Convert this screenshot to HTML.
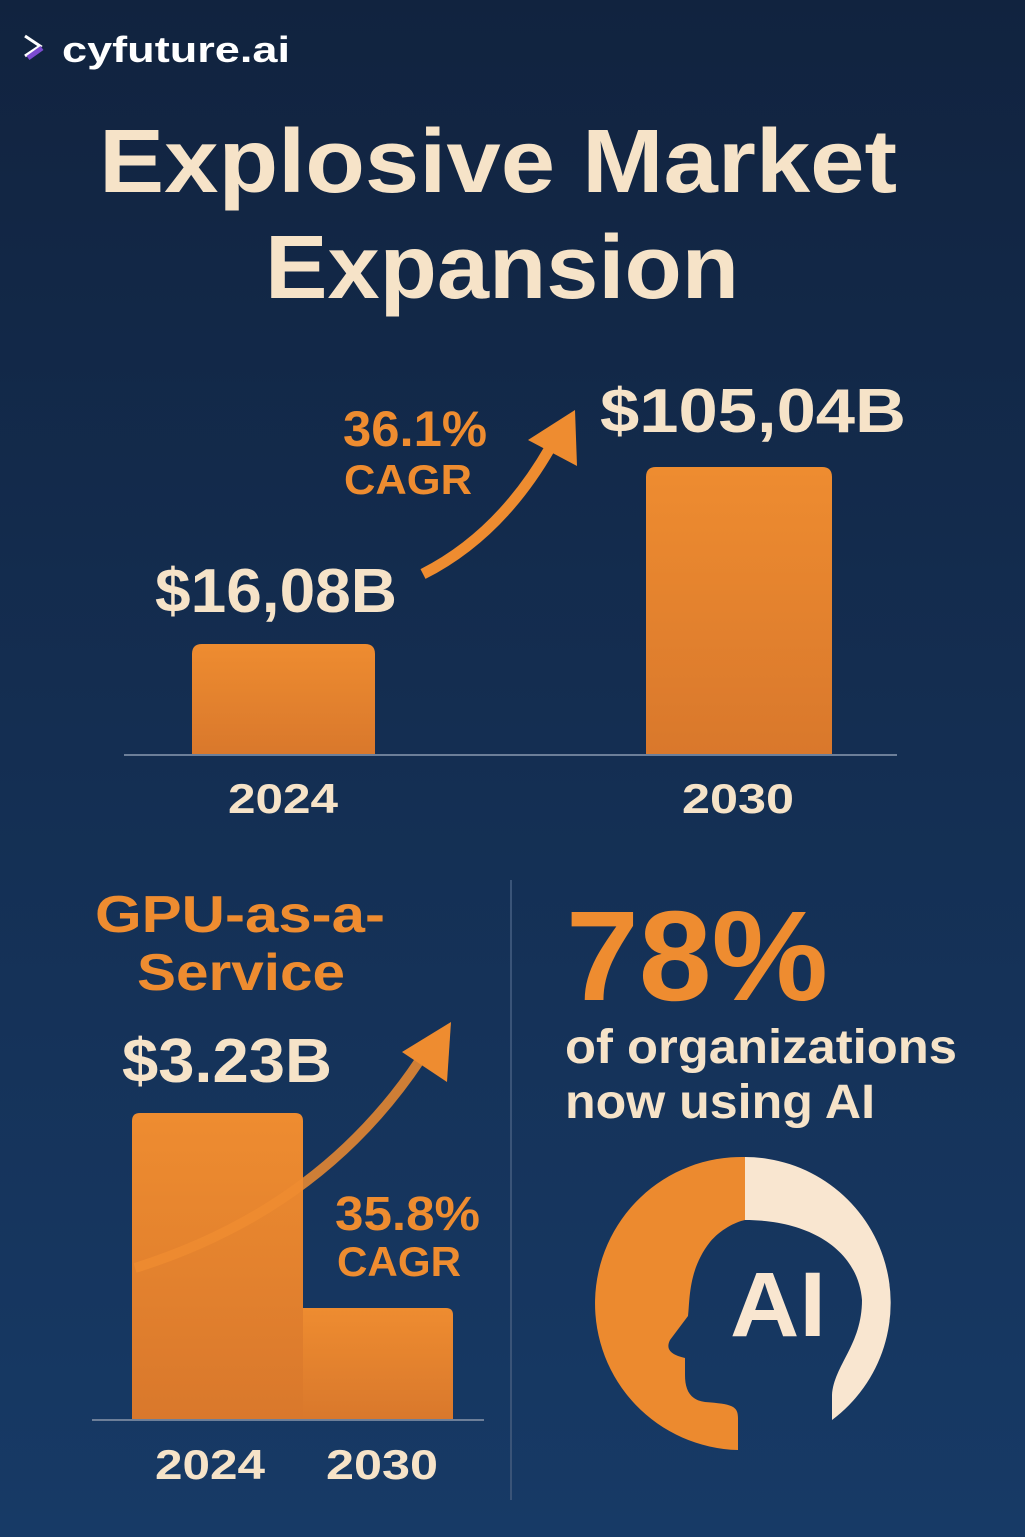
<!DOCTYPE html>
<html><head><meta charset="utf-8"><style>
html,body{margin:0;padding:0;background:#13294b}
svg{display:block}
text{font-family:"Liberation Sans",sans-serif;font-weight:bold}
</style></head><body>
<svg width="1025" height="1537" viewBox="0 0 1025 1537" xmlns="http://www.w3.org/2000/svg">
<defs>
<linearGradient id="bg" x1="0" y1="0" x2="0" y2="1">
<stop offset="0" stop-color="#11233f"/><stop offset="1" stop-color="#173a66"/></linearGradient>
<linearGradient id="bar" x1="0" y1="0" x2="0" y2="1">
<stop offset="0" stop-color="#ee8c30"/><stop offset="1" stop-color="#d9782c"/></linearGradient>
</defs>
<rect width="1025" height="1537" fill="url(#bg)"/>
<!-- logo -->
<path d="M25,36 L40,46 L25,56" fill="none" stroke="#fff" stroke-width="3"/>
<path d="M28,58 L42,48" stroke="#7b4bd0" stroke-width="5"/>
<text x="62" y="62" font-size="36" fill="#ffffff" textLength="228" lengthAdjust="spacingAndGlyphs">cyfuture.ai</text>
<!-- title -->
<text x="498" y="192" font-size="90" fill="#f6e3c8" text-anchor="middle" textLength="798" lengthAdjust="spacingAndGlyphs">Explosive Market</text>
<text x="502" y="298" font-size="90" fill="#f6e3c8" text-anchor="middle" textLength="474" lengthAdjust="spacingAndGlyphs">Expansion</text>
<!-- top chart -->
<path d="M192,754 L192,654 Q192,644 202,644 L365,644 Q375,644 375,654 L375,754Z" fill="url(#bar)"/>
<path d="M646,754 L646,477 Q646,467 656,467 L822,467 Q832,467 832,477 L832,754Z" fill="url(#bar)"/>
<line x1="124" y1="755" x2="897" y2="755" stroke="#6d7f99" stroke-width="2"/>
<text x="228" y="813" font-size="42" fill="#f6e3c8" textLength="110" lengthAdjust="spacingAndGlyphs">2024</text>
<text x="682" y="813" font-size="42" fill="#f6e3c8" textLength="112" lengthAdjust="spacingAndGlyphs">2030</text>
<text x="155" y="612" font-size="62" fill="#f6e3c8" textLength="242" lengthAdjust="spacingAndGlyphs">$16,08B</text>
<text x="600" y="432" font-size="62" fill="#f6e3c8" textLength="306" lengthAdjust="spacingAndGlyphs">$105,04B</text>
<text x="343" y="446" font-size="50" fill="#ee8c30" textLength="144" lengthAdjust="spacingAndGlyphs">36.1%</text>
<text x="344" y="494" font-size="42" fill="#ee8c30" textLength="128" lengthAdjust="spacingAndGlyphs">CAGR</text>
<path d="M423,574 Q500,535 550,448" fill="none" stroke="#ee8c30" stroke-width="11"/>
<path d="M575,410 L577,466 L528,440Z" fill="#ee8c30"/>
<!-- divider -->
<line x1="511" y1="880" x2="511" y2="1500" stroke="#3a5478" stroke-width="2"/>
<!-- bottom left -->
<text x="95" y="932" font-size="52" fill="#ee8c30" textLength="290" lengthAdjust="spacingAndGlyphs">GPU-as-a-</text>
<text x="137" y="990" font-size="52" fill="#ee8c30" textLength="208" lengthAdjust="spacingAndGlyphs">Service</text>
<text x="122" y="1082" font-size="62" fill="#f6e3c8" textLength="210" lengthAdjust="spacingAndGlyphs">$3.23B</text>
<path d="M132,1420 L132,1121 Q132,1113 140,1113 L295,1113 Q303,1113 303,1121 L303,1420Z" fill="url(#bar)"/>
<path d="M303,1420 L303,1308 L446,1308 Q453,1308 453,1315 L453,1420Z" fill="url(#bar)"/>
<path d="M135,1268 Q320,1210 420,1060" fill="none" stroke="#ee8c30" stroke-width="10" opacity="0.85"/>
<path d="M451,1022 L447,1082 L402,1052Z" fill="#ee8c30"/>
<line x1="92" y1="1420" x2="484" y2="1420" stroke="#6d7f99" stroke-width="2"/>
<text x="335" y="1230" font-size="48" fill="#ee8c30" textLength="145" lengthAdjust="spacingAndGlyphs">35.8%</text>
<text x="337" y="1276" font-size="42" fill="#ee8c30" textLength="124" lengthAdjust="spacingAndGlyphs">CAGR</text>
<text x="155" y="1479" font-size="42" fill="#f6e3c8" textLength="110" lengthAdjust="spacingAndGlyphs">2024</text>
<text x="326" y="1479" font-size="42" fill="#f6e3c8" textLength="112" lengthAdjust="spacingAndGlyphs">2030</text>
<!-- bottom right -->
<text x="566" y="1000" font-size="128" fill="#ee8c30" textLength="262" lengthAdjust="spacingAndGlyphs">78%</text>
<text x="565" y="1063" font-size="48" fill="#f6e3c8" textLength="392" lengthAdjust="spacingAndGlyphs">of organizations</text>
<text x="565" y="1118" font-size="48" fill="#f6e3c8" textLength="310" lengthAdjust="spacingAndGlyphs">now using AI</text>
<path d="M745,1157 A146,146 0 0 1 832,1420 L832,1395 C834,1365 862,1345 862,1300 C858,1250 810,1220 745,1220 Z" fill="#f9e6d0"/>
<path d="M745,1157 A146,146 0 0 0 738,1450 L738,1418 C738,1406 732,1404 705,1402 C690,1400 685,1390 685,1375 L685,1358 C672,1355 665,1350 670,1340 L688,1316 C690,1300 688,1270 710,1242 C720,1230 735,1222 745,1220 Z" fill="#ec8a2f"/>
<text x="778" y="1336" font-size="92" fill="#f9e6d0" text-anchor="middle" textLength="96" lengthAdjust="spacingAndGlyphs">AI</text>
</svg>
</body></html>
